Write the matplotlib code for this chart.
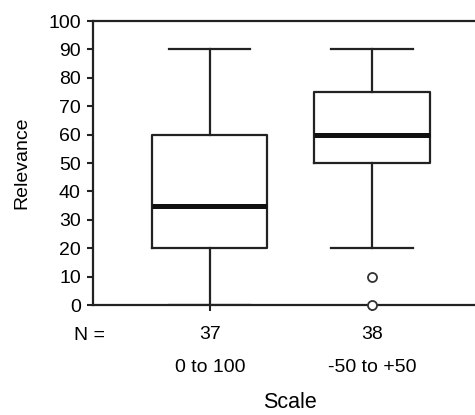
import matplotlib
matplotlib.use("Agg")
import matplotlib.pyplot as plt
import matplotlib.transforms as mtransforms

plt.rcParams['font.family'] = ['Liberation Sans', 'DejaVu Sans']

# Data
categories = ["0 to 100", "-50 to +50"]
counts = [37, 38]
whislo = [0, 20]
q1 = [20, 50]
med = [35, 60]
q3 = [60, 75]
whishi = [90, 90]
outliers = [[], [10, 0]]
yticks = list(range(0, 101, 10))

stats = []
for i in range(len(categories)):
    stats.append(dict(label=categories[i], whislo=whislo[i], q1=q1[i], med=med[i],
                      q3=q3[i], whishi=whishi[i], fliers=outliers[i]))

fig = plt.figure(figsize=(4.75, 4.15), dpi=100)
ax_w = 1 - 93/475 + 0.01
ax = fig.add_axes([93/475, 1 - 305/415, ax_w, (305 - 21)/415])

positions = [1, 2]
lw = 1.6
parts = ax.bxp(stats, positions=positions, widths=0.71, showfliers=True,
               boxprops=dict(color='#222222', linewidth=lw),
               whiskerprops=dict(color='#222222', linewidth=lw),
               capprops=dict(color='#222222', linewidth=lw),
               medianprops=dict(color='#111111', linewidth=3.6, solid_capstyle='butt'),
               flierprops=dict(marker='o', markersize=6.5, markerfacecolor='white',
                               markeredgecolor='#333333', markeredgewidth=1.3),
               capwidths=0.5)
for fl in parts['fliers']:
    fl.set_clip_on(False)
    fl.set_zorder(5)

ax.set_ylim(0, 100)
ax.set_xlim(1 - 116/161, 2 + 107/161)
ax.set_yticks(yticks)
ax.set_yticklabels([str(v) for v in yticks], fontsize=14)
ax.tick_params(axis='y', direction='out', length=4.3, width=1.5, color='#222222', pad=4.5)
ax.set_xticks(positions)
ax.set_xticklabels([str(c) for c in counts], fontsize=14)
ax.tick_params(axis='x', direction='out', length=4, width=1.5, color='#222222', pad=11)

for s in ['left', 'bottom', 'top']:
    ax.spines[s].set_linewidth(1.6)
    ax.spines[s].set_color('#222222')
ax.spines['right'].set_visible(False)

ax.set_ylabel("Relevance", fontsize=14, va='center')
ax.yaxis.set_label_coords((22 - 93) / (ax_w * 475), 0.5)

trans = mtransforms.blended_transform_factory(ax.transData, fig.transFigure)
for p, c in zip(positions, categories):
    ax.text(p, 1 - 372/415, c, transform=trans, ha='center', va='baseline', fontsize=14)

fig.text(90/475, 1 - 340/415, "N =", ha='center', va='baseline', fontsize=14)
fig.text(290/475, 1 - 408/415, "Scale", ha='center', va='baseline', fontsize=15.5)

fig.savefig("out.png", dpi=100)
